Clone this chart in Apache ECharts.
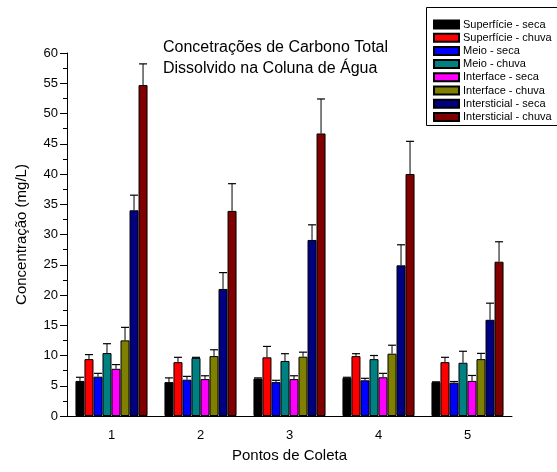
<!DOCTYPE html>
<html><head><meta charset="utf-8">
<script src="https://cdn.jsdelivr.net/npm/echarts@6/dist/echarts.min.js"></script>
<style>html,body{margin:0;padding:0;background:#fff}#c{width:557px;height:472px}</style>
</head><body><div id="c"></div>
<script>
var categories = ['1','2','3','4','5'];
var seriesNames = ['Superfície - seca','Superfície - chuva','Meio - seca','Meio - chuva','Interface - seca','Interface - chuva','Intersticial - seca','Intersticial - chuva'];
var seriesColors = ['#000000','#FF0000','#0000FF','#008080','#FF00FF','#808000','#000080','#800000'];
var supSeca = [5.8, 5.6, 6.2, 6.3, 5.6];
var supChuva = [9.4, 8.9, 9.7, 9.9, 8.9];
var meioSeca = [6.5, 6.0, 5.6, 5.9, 5.5];
var meioChuva = [10.4, 9.6, 9.1, 9.4, 8.8];
var interSeca = [7.8, 6.1, 6.1, 6.4, 5.8];
var interChuva = [12.5, 9.9, 9.8, 10.3, 9.4];
var intersSeca = [34.0, 21.0, 29.1, 24.9, 15.9];
var intersChuva = [54.7, 33.9, 46.7, 40.0, 25.5];
var errSupSeca = [0.6, 0.7, 0.1, 0.1, 0.05];
var errSupChuva = [0.75, 0.8, 1.8, 0.4, 0.8];
var errMeioSeca = [0.55, 0.55, 0.3, 0.33, 0.2];
var errMeioChuva = [1.55, 0.1, 1.2, 0.6, 1.9];
var errInterSeca = [0.7, 0.55, 0.55, 0.65, 0.9];
var errInterChuva = [2.15, 1.05, 0.75, 1.4, 0.95];
var errIntersSeca = [2.5, 2.7, 2.5, 3.4, 2.75];
var errIntersChuva = [3.5, 4.5, 5.7, 5.4, 3.3];
var yTicks = [0,5,10,15,20,25,30,35,40,45,50,55,60];

var values = [supSeca, supChuva, meioSeca, meioChuva, interSeca, interChuva, intersSeca, intersChuva];
var errors = [errSupSeca, errSupChuva, errMeioSeca, errMeioChuva, errInterSeca, errInterChuva, errIntersSeca, errIntersChuva];
var catGap = 0.19;

var series = [];
values.forEach(function(v, i){
  series.push({
    name: seriesNames[i], type: 'bar', data: v,
    barGap: 0, barCategoryGap: (catGap*100)+'%',
    itemStyle: {color: seriesColors[i], borderColor: '#000', borderWidth: 1},
    emphasis: {disabled: true}
  });
});
var errData = [];
values.forEach(function(v, i){
  v.forEach(function(val, c){ errData.push([c, i, val, errors[i][c]]); });
});
series.push({
  type: 'custom', data: errData, encode: {x: 0, y: 2}, z: 5, silent: true,
  renderItem: function(params, api){
    var c = api.value(0), s = api.value(1), val = api.value(2), e = api.value(3);
    var band = api.size([1, 0])[0];
    var bw = band * (1 - catGap) / 8;
    var cx = api.coord([c, 0])[0] + (s - 3.5) * bw;
    var y0 = api.coord([c, val])[1];
    var y1 = api.coord([c, val + e])[1];
    var hw = bw / 2 - 0.5;
    return {type: 'group', children: [
      {type: 'line', shape: {x1: cx, y1: y0, x2: cx, y2: y1}, style: {stroke: '#000', lineWidth: 1}},
      {type: 'line', shape: {x1: cx - hw, y1: y1, x2: cx + hw, y2: y1}, style: {stroke: '#000', lineWidth: 1.2}}
    ]};
  }
});

var chart = echarts.init(document.getElementById('c'), null, {renderer: 'canvas'});
chart.setOption({
  animation: false,
  backgroundColor: '#fff',
  title: {
    text: 'Concetrações de Carbono Total\nDissolvido na Coluna de Água',
    left: 163, top: 37, padding: 0,
    textStyle: {fontFamily: 'Liberation Sans, Arial', fontSize: 16, fontWeight: 'normal', color: '#000', lineHeight: 21}
  },
  graphic: [{
    type: 'rect', left: 426, top: 7, z: 0,
    shape: {width: 160, height: 118},
    style: {fill: '#fff', stroke: '#000', lineWidth: 1}
  }],
  legend: {
    data: seriesNames, orient: 'vertical', left: 433, top: 18, z: 10,
    padding: 0, itemWidth: 25, itemHeight: 8, itemGap: 0.2,
    icon: 'rect',
    selectedMode: false,
    textStyle: {fontFamily: 'Liberation Sans, Arial', fontSize: 11, color: '#000', lineHeight: 13, padding: [0,0,0,-1]}
  },
  grid: {left: 67, right: 45, top: 53, bottom: 56},
  xAxis: [{
    type: 'category', data: categories, position: 'bottom',
    axisLine: {lineStyle: {color: '#000', width: 1}},
    axisTick: {alignWithLabel: true, length: 7, lineStyle: {color: '#000'}},
    axisLabel: {color: '#000', fontFamily: 'Liberation Sans, Arial', fontSize: 13, margin: 13},
    name: 'Pontos de Coleta', nameLocation: 'middle', nameGap: 32,
    nameTextStyle: {color: '#000', fontFamily: 'Liberation Sans, Arial', fontSize: 15}
  }, {
    type: 'category', data: categories, position: 'bottom', offset: 0,
    axisLine: {show: false},
    axisTick: {alignWithLabel: false, length: 4, lineStyle: {color: '#000'}},
    axisLabel: {show: false}
  }],
  yAxis: {
    type: 'value', min: 0, max: 60, interval: 5,
    axisLine: {show: true, lineStyle: {color: '#000'}},
    axisTick: {show: true, length: 7, lineStyle: {color: '#000'}},
    minorTick: {show: true, splitNumber: 2, length: 4, lineStyle: {color: '#000'}},
    splitLine: {show: false},
    axisLabel: {color: '#000', fontFamily: 'Liberation Sans, Arial', fontSize: 13, margin: 9,
      formatter: function(v){ return yTicks.indexOf(v) >= 0 ? String(v) : ''; }},
    name: 'Concentração (mg/L)', nameLocation: 'middle', nameGap: 38,
    nameTextStyle: {color: '#000', fontFamily: 'Liberation Sans, Arial', fontSize: 15}
  },
  series: series
});
</script></body></html>
